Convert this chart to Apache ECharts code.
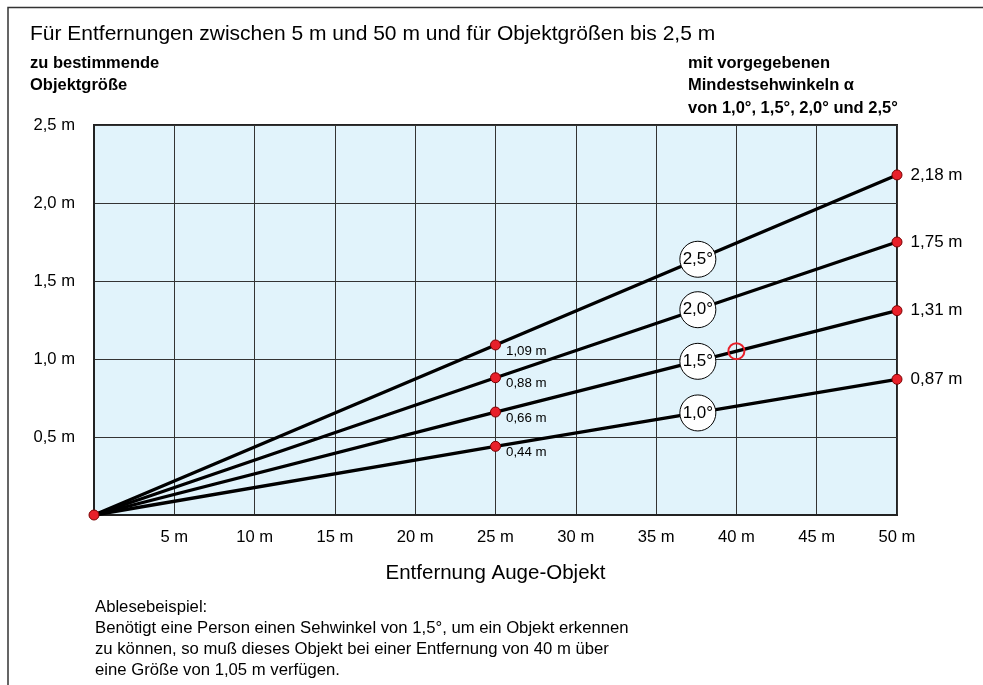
<!DOCTYPE html>
<html>
<head>
<meta charset="utf-8">
<script src="https://cdn.jsdelivr.net/npm/echarts@6/dist/echarts.min.js"></script>
<style>
  html, body { margin: 0; padding: 0; background: #fff; }
  #main { width: 983px; height: 685px; }
</style>
</head>
<body>
<div id="main"></div>
<script>
// Sehwinkel und Objektgrößen
var angles = ['2,5°', '2,0°', '1,5°', '1,0°'];
var dist = [0, 25, 50];
var size25 = [1.09, 0.88, 0.66, 0.44];
var size50 = [2.18, 1.75, 1.31, 0.87];
var bubbleX = 37.6;           // wo die Winkel-Kreise auf den Linien sitzen
var example = [40, 1.05];     // Ablesebeispiel

var FONT = '"Liberation Sans", Arial, sans-serif';

function fmt(v, d) {
  return v.toFixed(d).replace('.', ',') + ' m';
}

var chart = echarts.init(document.getElementById('main'));

var series = [];
// Linien
for (var i = 0; i < angles.length; i++) {
  series.push({
    type: 'line',
    data: [[dist[0], 0], [dist[1], size25[i]], [dist[2], size50[i]]],
    symbol: 'none',
    lineStyle: { color: '#000', width: 3.3 },
    z: 3,
    silent: true
  });
}
// rote Punkte mit Beschriftung
var dots = [{ value: [0, 0] }];
for (var i = 0; i < angles.length; i++) {
  dots.push({
    value: [dist[1], size25[i]],
    label: { show: true, position: 'right', offset: [0, 6], fontSize: 13.3, formatter: fmt(size25[i], 2) }
  });
  dots.push({
    value: [dist[2], size50[i]],
    label: { show: true, position: 'right', distance: 8, fontSize: 17, formatter: fmt(size50[i], 2) }
  });
}
series.push({
  type: 'scatter',
  data: dots,
  symbolSize: 10,
  itemStyle: { color: '#e8202a', borderColor: '#7a0000', borderWidth: 1, opacity: 1 },
  label: { color: '#000', fontFamily: FONT },
  z: 5,
  silent: true
});
// Winkel-Kreise
series.push({
  type: 'scatter',
  data: angles.map(function (a, i) {
    return { value: [bubbleX, size50[i] * bubbleX / 50], name: a };
  }),
  symbolSize: 36,
  itemStyle: { color: '#fff', borderColor: '#000', borderWidth: 1, opacity: 1 },
  label: { show: true, position: 'inside', formatter: '{b}', color: '#000', fontSize: 17, fontFamily: FONT },
  z: 6,
  silent: true
});
// Ablesebeispiel
series.push({
  type: 'scatter',
  data: [example],
  symbol: 'circle',
  symbolSize: 16,
  itemStyle: { color: 'rgba(0,0,0,0)', borderColor: '#e8202a', borderWidth: 2, opacity: 1 },
  z: 7,
  silent: true
});

var option = {
  animation: false,
  textStyle: { fontFamily: FONT },
  grid: {
    left: 94, right: 86, top: 125, bottom: 170,
    show: true,
    backgroundColor: '#e1f3fb',
    borderColor: '#222',
    borderWidth: 2
  },
  xAxis: {
    type: 'value',
    min: 0, max: 50, interval: 5,
    name: 'Entfernung Auge-Objekt',
    nameLocation: 'middle',
    nameGap: 48,
    nameTextStyle: { fontSize: 20.5, color: '#000', fontFamily: FONT },
    axisLine: { lineStyle: { color: '#222', width: 2 } },
    axisTick: { show: false },
    axisLabel: {
      color: '#000', fontSize: 16.6, margin: 14, fontFamily: FONT,
      formatter: function (v) { return v === 0 ? '' : v + ' m'; }
    },
    splitLine: { lineStyle: { color: '#333', width: 1 } }
  },
  yAxis: {
    type: 'value',
    min: 0, max: 2.5, interval: 0.5,
    axisLine: { lineStyle: { color: '#222', width: 2 } },
    axisTick: { show: false },
    axisLabel: {
      color: '#000', fontSize: 16.6, margin: 19, fontFamily: FONT,
      formatter: function (v) { return v === 0 ? '' : fmt(v, 1); }
    },
    splitLine: { lineStyle: { color: '#333', width: 1 } }
  },
  graphic: [
    // Rahmen
    { type: 'polyline', shape: { points: [[8, 685], [8, 7.5], [983, 7.5]] }, style: { stroke: '#333', lineWidth: 1.5, fill: null } },
    { type: 'text', left: 30, top: 24, style: { text: 'Für Entfernungen zwischen 5 m und 50 m und für Objektgrößen bis 2,5 m', fontSize: 21, fill: '#000', fontFamily: FONT } },
    { type: 'text', left: 30, top: 52, style: { text: 'zu bestimmende\nObjektgröße', fontSize: 16.5, fontWeight: 'bold', lineHeight: 22.5, fill: '#000', fontFamily: FONT } },
    { type: 'text', left: 688, top: 52, style: { text: 'mit vorgegebenen\nMindestsehwinkeln α\nvon 1,0°, 1,5°, 2,0° und 2,5°', fontSize: 16.5, fontWeight: 'bold', lineHeight: 22.5, fill: '#000', fontFamily: FONT } },
    { type: 'text', left: 95, top: 597, style: { text: 'Ablesebeispiel:\nBenötigt eine Person einen Sehwinkel von 1,5°, um ein Objekt erkennen\nzu können, so muß dieses Objekt bei einer Entfernung von 40 m über\neine Größe von 1,05 m verfügen.', fontSize: 16.7, lineHeight: 21, fill: '#000', fontFamily: FONT } }
  ],
  series: series
};

chart.setOption(option);
</script>
</body>
</html>
